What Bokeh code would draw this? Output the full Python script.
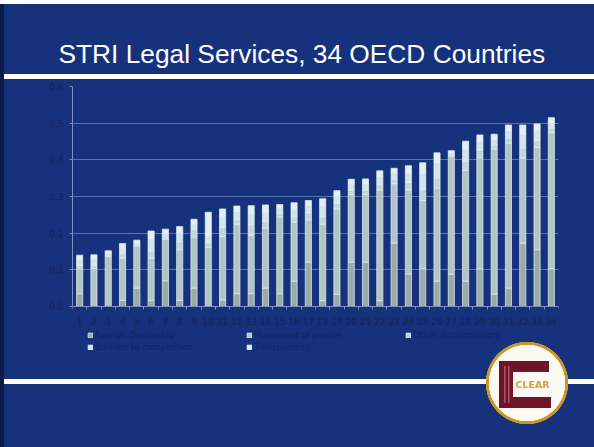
from bokeh.plotting import figure
from bokeh.models import (Range1d, FixedTicker, CustomJSTickFormatter, Legend, LegendItem,
                          ColumnDataSource, Label)
from bokeh.embed import file_html
from bokeh.resources import INLINE

# ---------------- data ----------------
countries = list(range(1, 35))
foreign_ownership = [0.035, 0.000, 0.000, 0.017, 0.050, 0.017, 0.070, 0.017, 0.050, 0.000,
                     0.018, 0.035, 0.035, 0.050, 0.035, 0.069, 0.121, 0.016, 0.033, 0.121,
                     0.121, 0.016, 0.173, 0.089, 0.103, 0.069, 0.088, 0.069, 0.103, 0.034,
                     0.050, 0.173, 0.155, 0.103]
movement_of_people = [0.068, 0.104, 0.136, 0.115, 0.115, 0.115, 0.114, 0.138, 0.140, 0.162,
                      0.173, 0.190, 0.160, 0.164, 0.209, 0.161, 0.115, 0.209, 0.233, 0.184,
                      0.184, 0.302, 0.162, 0.229, 0.186, 0.254, 0.322, 0.302, 0.303, 0.395,
                      0.396, 0.232, 0.279, 0.372]
other_discriminatory = [0.010, 0.008, 0.004, 0.012, 0.004, 0.020, 0.006, 0.022, 0.020, 0.012,
                        0.025, 0.012, 0.028, 0.018, 0.010, 0.015, 0.020, 0.020, 0.015, 0.012,
                        0.012, 0.015, 0.012, 0.020, 0.030, 0.028, 0.004, 0.025, 0.020, 0.012,
                        0.014, 0.028, 0.020, 0.012]
barriers_to_competition = [0.015, 0.017, 0.006, 0.016, 0.006, 0.034, 0.009, 0.025, 0.014, 0.018,
                           0.030, 0.022, 0.032, 0.025, 0.014, 0.022, 0.020, 0.030, 0.020, 0.018,
                           0.018, 0.022, 0.018, 0.027, 0.045, 0.040, 0.006, 0.033, 0.024, 0.016,
                           0.020, 0.036, 0.026, 0.016]
transparency = [0.012, 0.012, 0.006, 0.012, 0.006, 0.020, 0.012, 0.016, 0.014, 0.065,
                0.020, 0.015, 0.020, 0.020, 0.010, 0.016, 0.013, 0.019, 0.015, 0.012,
                0.013, 0.015, 0.012, 0.019, 0.028, 0.028, 0.005, 0.022, 0.018, 0.013,
                0.015, 0.026, 0.018, 0.012]
series_names = ["Foreign Ownership", "Movement of people", "Other discriminatory",
                "Barriers to competition", "Transparency"]
y_ticks = [0.0, 0.1, 0.2, 0.3, 0.4, 0.5, 0.6]
y_max = 0.6
title_text = "STRI Legal Services, 34 OECD Countries"
logo_text = "CLEAR"

# ---------------- style / layout ----------------
BG = "#16327d"
TXT = "#16245c"
colors = ["#9aaba7", "#b2c5c5", "#c2d7d9", "#d2e5e8", "#e3f0f2"]
W, H = 594, 447
FL, FR, FT = 72, 558, 86      # frame left/right/top (canvas px)
ZERO_Y = 306                  # canvas y of value 0 (x axis)
FBOT = 407                    # frame bottom (canvas px), below the legend
y_start = -(FBOT - ZERO_Y) / (ZERO_Y - FT) * y_max

p = figure(width=W, height=H, x_range=Range1d(0.5, 34.5), y_range=Range1d(y_start, y_max),
           output_backend="svg", toolbar_location=None,
           min_border_left=FL, min_border_right=W - FR,
           min_border_top=FT, min_border_bottom=H - FBOT)
p.background_fill_alpha = 0
p.border_fill_alpha = 0
p.outline_line_color = None


def layer(color, x, y, w, h):
    return f"linear-gradient({color},{color}) {x}px {y}px / {w}px {h}px no-repeat"


maroon = "#6e1428"
stripe = "#a85668"
layers = [
    layer(stripe, 504, 366, 1.5, 37),
    layer(stripe, 508, 366, 1.5, 37),
    layer(maroon, 499, 361, 50, 11),
    layer(maroon, 499, 397, 52, 11),
    layer(maroon, 499, 361, 14, 47),
    "radial-gradient(circle at 527px 383px, #fbf9f2 0px, #fbf9f2 38px, #c9962a 38.5px, "
    "#c9962a 41px, rgba(0,0,0,0) 41.5px) 0px 0px / 100% 100% no-repeat",
    layer("#ffffff", 0, 0, W, 4),
    layer("#0b1a48", 0, 0, 4, H),
    layer("#ffffff", 0, 74, W, 5),
    layer("#ffffff", 0, 379, W, 5),
    BG,
]
p.styles = {"background": ", ".join(layers)}

src = ColumnDataSource(dict(x=countries, fo=foreign_ownership, mop=movement_of_people,
                            od=other_discriminatory, bc=barriers_to_competition,
                            tr=transparency))
keys = ["fo", "mop", "od", "bc", "tr"]
rends = p.vbar_stack(keys, x="x", width=0.43, source=src, fill_color=colors,
                     line_color="#e9f4f6", line_width=0.7)

# axes
p.xaxis.fixed_location = 0
p.xaxis.ticker = FixedTicker(ticks=countries, minor_ticks=[i + 0.5 for i in range(35)])
p.xaxis.major_tick_line_color = None
p.xaxis.minor_tick_out = 3
p.xaxis.minor_tick_in = 0
p.xaxis.minor_tick_line_color = "#8090bf"
p.xaxis.axis_line_color = "#8090bf"
p.xaxis.major_label_standoff = 5
p.yaxis.bounds = (0, y_max)
p.yaxis.ticker = FixedTicker(ticks=y_ticks)
p.yaxis.formatter = CustomJSTickFormatter(code="return tick.toFixed(1).replace('.', ',');")
p.yaxis.major_tick_out = 3
p.yaxis.major_tick_in = 0
p.yaxis.minor_tick_line_color = None
p.yaxis.major_tick_line_color = "#8090bf"
p.yaxis.axis_line_color = "#8090bf"
p.yaxis.major_label_standoff = 6
for ax in (p.xaxis, p.yaxis):
    ax.major_label_text_color = TXT
    ax.major_label_text_font = "DejaVu Sans"
    ax.major_label_text_font_size = "9px"
p.xgrid.visible = False
p.ygrid.grid_line_color = "#5a72b4"
p.ygrid.grid_line_width = 1

# title
p.title.text = title_text
p.title.align = "left"
p.title.offset = 58 - FL
p.title.text_color = "white"
p.title.text_font = "Liberation Sans"
p.title.text_font_style = "normal"
p.title.text_font_size = "26.3px"
p.title.standoff = 35

# legend (inside the extended frame, below the x axis)
legend = Legend(items=[LegendItem(label=n, renderers=[r]) for n, r in zip(series_names, rends)],
                orientation="horizontal", ncols=3, location=(87 - FL, FBOT - 353),
                glyph_width=6, glyph_height=6, label_standoff=2, label_width=151,
                label_height=12, spacing=0, padding=0, margin=0,
                border_line_color=None, background_fill_alpha=0,
                label_text_font="DejaVu Sans", label_text_font_size="8.5px",
                label_text_color=TXT)
p.add_layout(legend)

# logo text
p.add_layout(Label(x=515 - FL, y=FBOT - 384, x_units="screen", y_units="screen",
                   text=logo_text, text_color="#d4a43a", text_font="DejaVu Sans",
                   text_font_style="bold", text_font_size="9.5px",
                   text_baseline="middle", text_align="left"))

open("out.html", "w").write(file_html(p, INLINE))
